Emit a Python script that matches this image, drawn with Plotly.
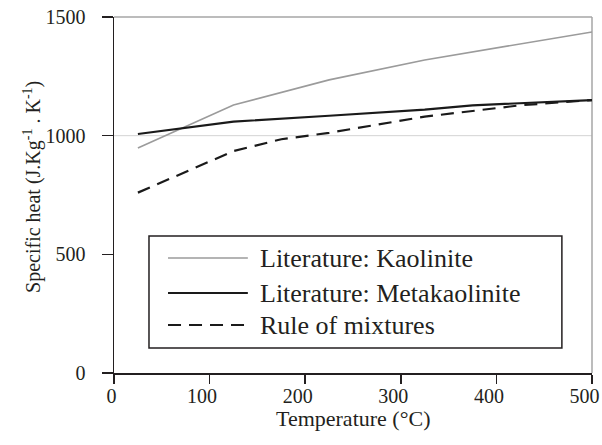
import plotly.graph_objects as go

# ---- data ----
temp_kaolinite = [25, 125, 225, 325, 500]
cp_kaolinite = [948, 1129, 1235, 1319, 1437]

temp_metakaolinite = [25, 125, 225, 325, 375, 500]
cp_metakaolinite = [1007, 1059, 1084, 1110, 1128, 1150]

temp_mixture = [25, 125, 175, 225, 325, 425, 500]
cp_mixture = [760, 935, 985, 1012, 1080, 1128, 1150]

series_names = ["Literature: Kaolinite", "Literature: Metakaolinite", "Rule of mixtures"]
x_ticks = [0, 100, 200, 300, 400, 500]
x_tick_labels = ["0", "100", "200", "300", "400", "500"]
y_ticks = [0, 500, 1000, 1500]
grid_values = [1000]

FONT = "Liberation Serif"
TXT = "#231f20"
styles = [
    dict(color="#9b9b9b", width=1.6),
    dict(color="#1a1a1a", width=2.2),
    dict(color="#1a1a1a", width=2.2, dash="13px,8px"),
]

fig = go.Figure()
for xs, ys, name, st in zip(
    [temp_kaolinite, temp_metakaolinite, temp_mixture],
    [cp_kaolinite, cp_metakaolinite, cp_mixture],
    series_names, styles,
):
    fig.add_trace(go.Scatter(x=xs, y=ys, mode="lines", name=name, line=st,
                             showlegend=False, hoverinfo="skip"))

shapes = []
for g in grid_values:
    shapes.append(dict(type="line", xref="paper", yref="y", x0=0, x1=1, y0=g, y1=g,
                       line=dict(color="#d4d4d4", width=1), layer="below"))
shapes.append(dict(type="line", xref="paper", yref="paper", x0=0, x1=1, y0=1, y1=1,
                   line=dict(color="#a6a6a6", width=1.5), layer="below"))
shapes.append(dict(type="line", xref="paper", yref="paper", x0=1, x1=1, y0=0, y1=1,
                   line=dict(color="#a6a6a6", width=1.5), layer="below"))

# custom legend box
box = dict(x0=0.0732, x1=0.937, y0=0.0702, y1=0.385)
shapes.append(dict(type="rect", xref="paper", yref="paper", **box,
                   line=dict(color="#231f20", width=1.5), fillcolor="white", layer="above"))
rows = [0.323, 0.2247, 0.1348]
annotations = []
for name, st, ry in zip(series_names, styles, rows):
    shapes.append(dict(type="line", xref="paper", yref="paper", x0=0.113, x1=0.280,
                       y0=ry, y1=ry, line=st, layer="above"))
    annotations.append(dict(xref="paper", yref="paper", x=0.302, y=ry, text=name,
                            showarrow=False, xanchor="left", yanchor="middle",
                            font=dict(family=FONT, size=26, color=TXT)))

# axis titles
annotations.append(dict(xref="paper", yref="paper", x=0.5, y=-0.128,
                        text="Temperature (°C)", showarrow=False,
                        xanchor="center", yanchor="middle",
                        font=dict(family=FONT, size=22, color=TXT)))
annotations.append(dict(xref="paper", yref="paper", x=-0.172, y=0.522,
                        text="Specific heat (J.Kg<sup>-1</sup> . K<sup>-1</sup>)",
                        showarrow=False, textangle=-90,
                        xanchor="center", yanchor="middle",
                        font=dict(family=FONT, size=20, color=TXT)))

fig.update_layout(
    width=602, height=445,
    margin=dict(l=114, r=10, t=17, b=72, pad=0),
    paper_bgcolor="white", plot_bgcolor="white",
    font=dict(family=FONT, color=TXT),
    shapes=shapes, annotations=annotations,
    showlegend=False, hovermode=False,
)
fig.update_xaxes(
    range=[0, 500], tickvals=x_ticks,
    ticktext=[t + "\u00a0" * len(t) for t in x_tick_labels],
    ticks="outside", ticklen=9, tickwidth=1.5,
    tickcolor="#231f20", showline=True, linecolor="#231f20", linewidth=1.5,
    showgrid=False, zeroline=False, automargin=False, ticklabeloverflow="allow",
    ticklabelstandoff=-5,
    tickfont=dict(family=FONT, size=20, color=TXT),
)
fig.update_yaxes(
    range=[0, 1500], tickvals=y_ticks, ticks="outside", ticklen=11, tickwidth=1.5,
    tickcolor="#231f20", showline=True, linecolor="#231f20", linewidth=1.5,
    showgrid=False, zeroline=False, automargin=False, ticklabelstandoff=12,
    ticklabeloverflow="allow",
    tickfont=dict(family=FONT, size=20, color=TXT),
)

fig.write_html("out.html", config={"displayModeBar": False, "staticPlot": True},
               post_script="document.body.style.margin='0';document.body.style.overflow='hidden';")
